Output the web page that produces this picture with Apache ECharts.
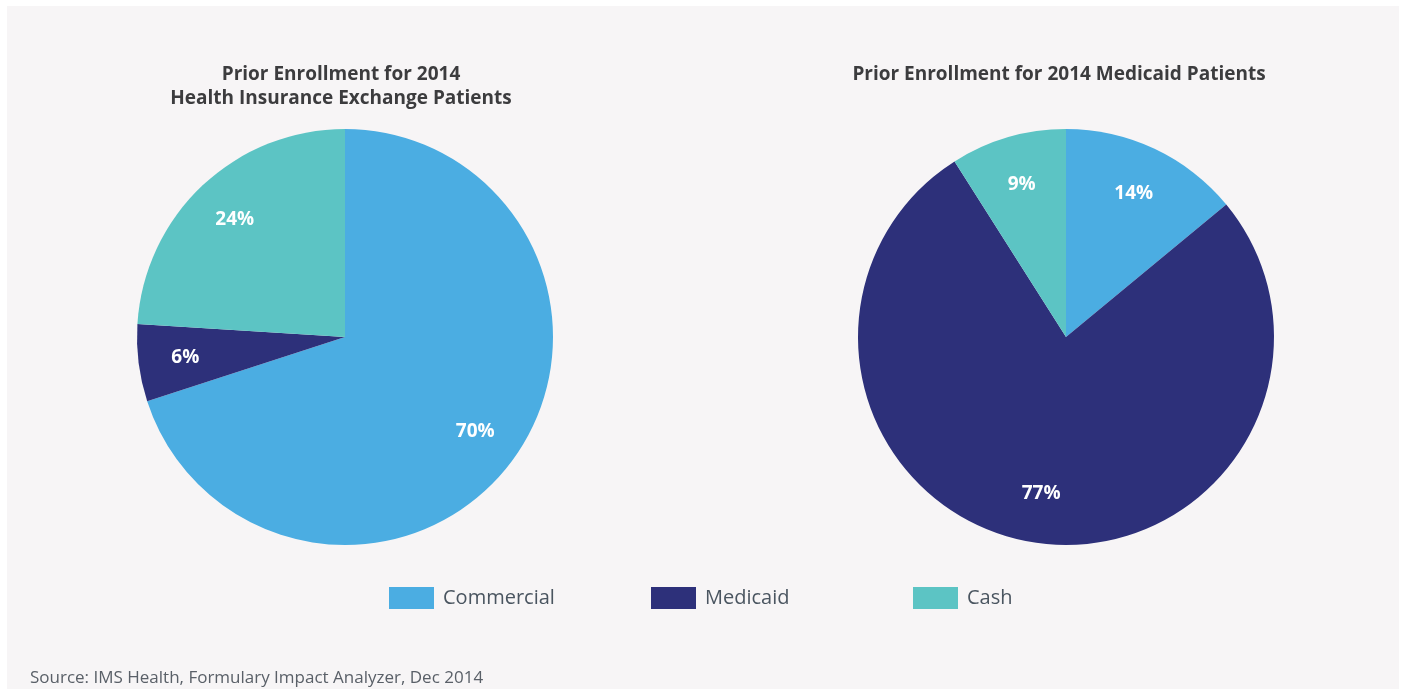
<!DOCTYPE html>
<html>
<head>
<meta charset="utf-8">
<script src="https://cdn.jsdelivr.net/npm/echarts@6/dist/echarts.min.js"></script>
<style>
html,body{margin:0;padding:0;background:#ffffff;}
#chart{width:1403px;height:689px;}
</style>
</head>
<body>
<div id="chart"></div>
<script>
var categories = ['Commercial', 'Medicaid', 'Cash'];
var exchangeValues = [70, 6, 24];
var medicaidValues = [14, 77, 9];
var colors = ['#4BADE2', '#2D307A', '#5CC4C4'];
var titleLeft = 'Prior Enrollment for 2014\nHealth Insurance Exchange Patients';
var titleRight = 'Prior Enrollment for 2014 Medicaid Patients';
var sourceText = 'Source: IMS Health, Formulary Impact Analyzer, Dec 2014';

var FONT = '"Open Sans", Lato, sans-serif';

function toData(vals) {
  return categories.map(function (c, i) { return { name: c, value: vals[i] }; });
}

function pieSeries(vals, center) {
  return {
    type: 'pie',
    center: center,
    radius: [0, 208],
    startAngle: 90,
    clockwise: true,
    silent: true,
    label: { show: false },
    labelLine: { show: false },
    itemStyle: { borderWidth: 0 },
    data: toData(vals)
  };
}
function labelSeries(vals, center, r) {
  return {
    type: 'pie',
    center: center,
    radius: [0, r],
    startAngle: 90,
    clockwise: true,
    silent: true,
    z: 5,
    legendHoverLink: false,
    itemStyle: { color: 'rgba(0,0,0,0)', borderWidth: 0 },
    label: {
      show: true,
      position: 'inside',
      formatter: '{c}%',
      color: '#ffffff',
      fontFamily: FONT,
      fontWeight: 'bold',
      fontSize: 19
    },
    labelLine: { show: false },
    data: toData(vals)
  };
}

var legendLefts = [389, 651, 913];
var legends = categories.map(function (c, i) {
  return {
    data: [c],
    left: legendLefts[i],
    top: 587,
    padding: 0,
    itemWidth: 45,
    itemHeight: 22,
    icon: 'rect',
    selectedMode: false,
    textStyle: { fontFamily: FONT, fontSize: 20, color: '#4A5560', padding: [0, 0, 0, 4] }
  };
});

var chart = echarts.init(document.getElementById('chart'), null, { renderer: 'canvas' });
chart.setOption({
  animation: false,
  color: colors,
  graphic: [
    { type: 'rect', z: -10, shape: { x: 7, y: 6, width: 1392, height: 700 }, style: { fill: '#F7F5F6' } }
  ],
  title: [
    { text: titleLeft, left: 341, top: 63, padding: 0, textAlign: 'center',
      textStyle: { fontFamily: FONT, fontWeight: 'bold', fontSize: 19, color: '#3C3C3E', lineHeight: 24 } },
    { text: titleRight, left: 1059, top: 63, padding: 0, textAlign: 'center',
      textStyle: { fontFamily: FONT, fontWeight: 'bold', fontSize: 19, color: '#3C3C3E', lineHeight: 24 } },
    { text: sourceText, left: 30, top: 670, padding: 0,
      textStyle: { fontFamily: FONT, fontWeight: 'normal', fontSize: 17, color: '#5A6068' } }
  ],
  legend: legends,
  series: [
    pieSeries(exchangeValues, [345, 337]),
    pieSeries(medicaidValues, [1066, 337]),
    labelSeries(exchangeValues, [345, 337], 316),
    labelSeries(medicaidValues, [1066, 337], 312)
  ]
});
</script>
</body>
</html>
